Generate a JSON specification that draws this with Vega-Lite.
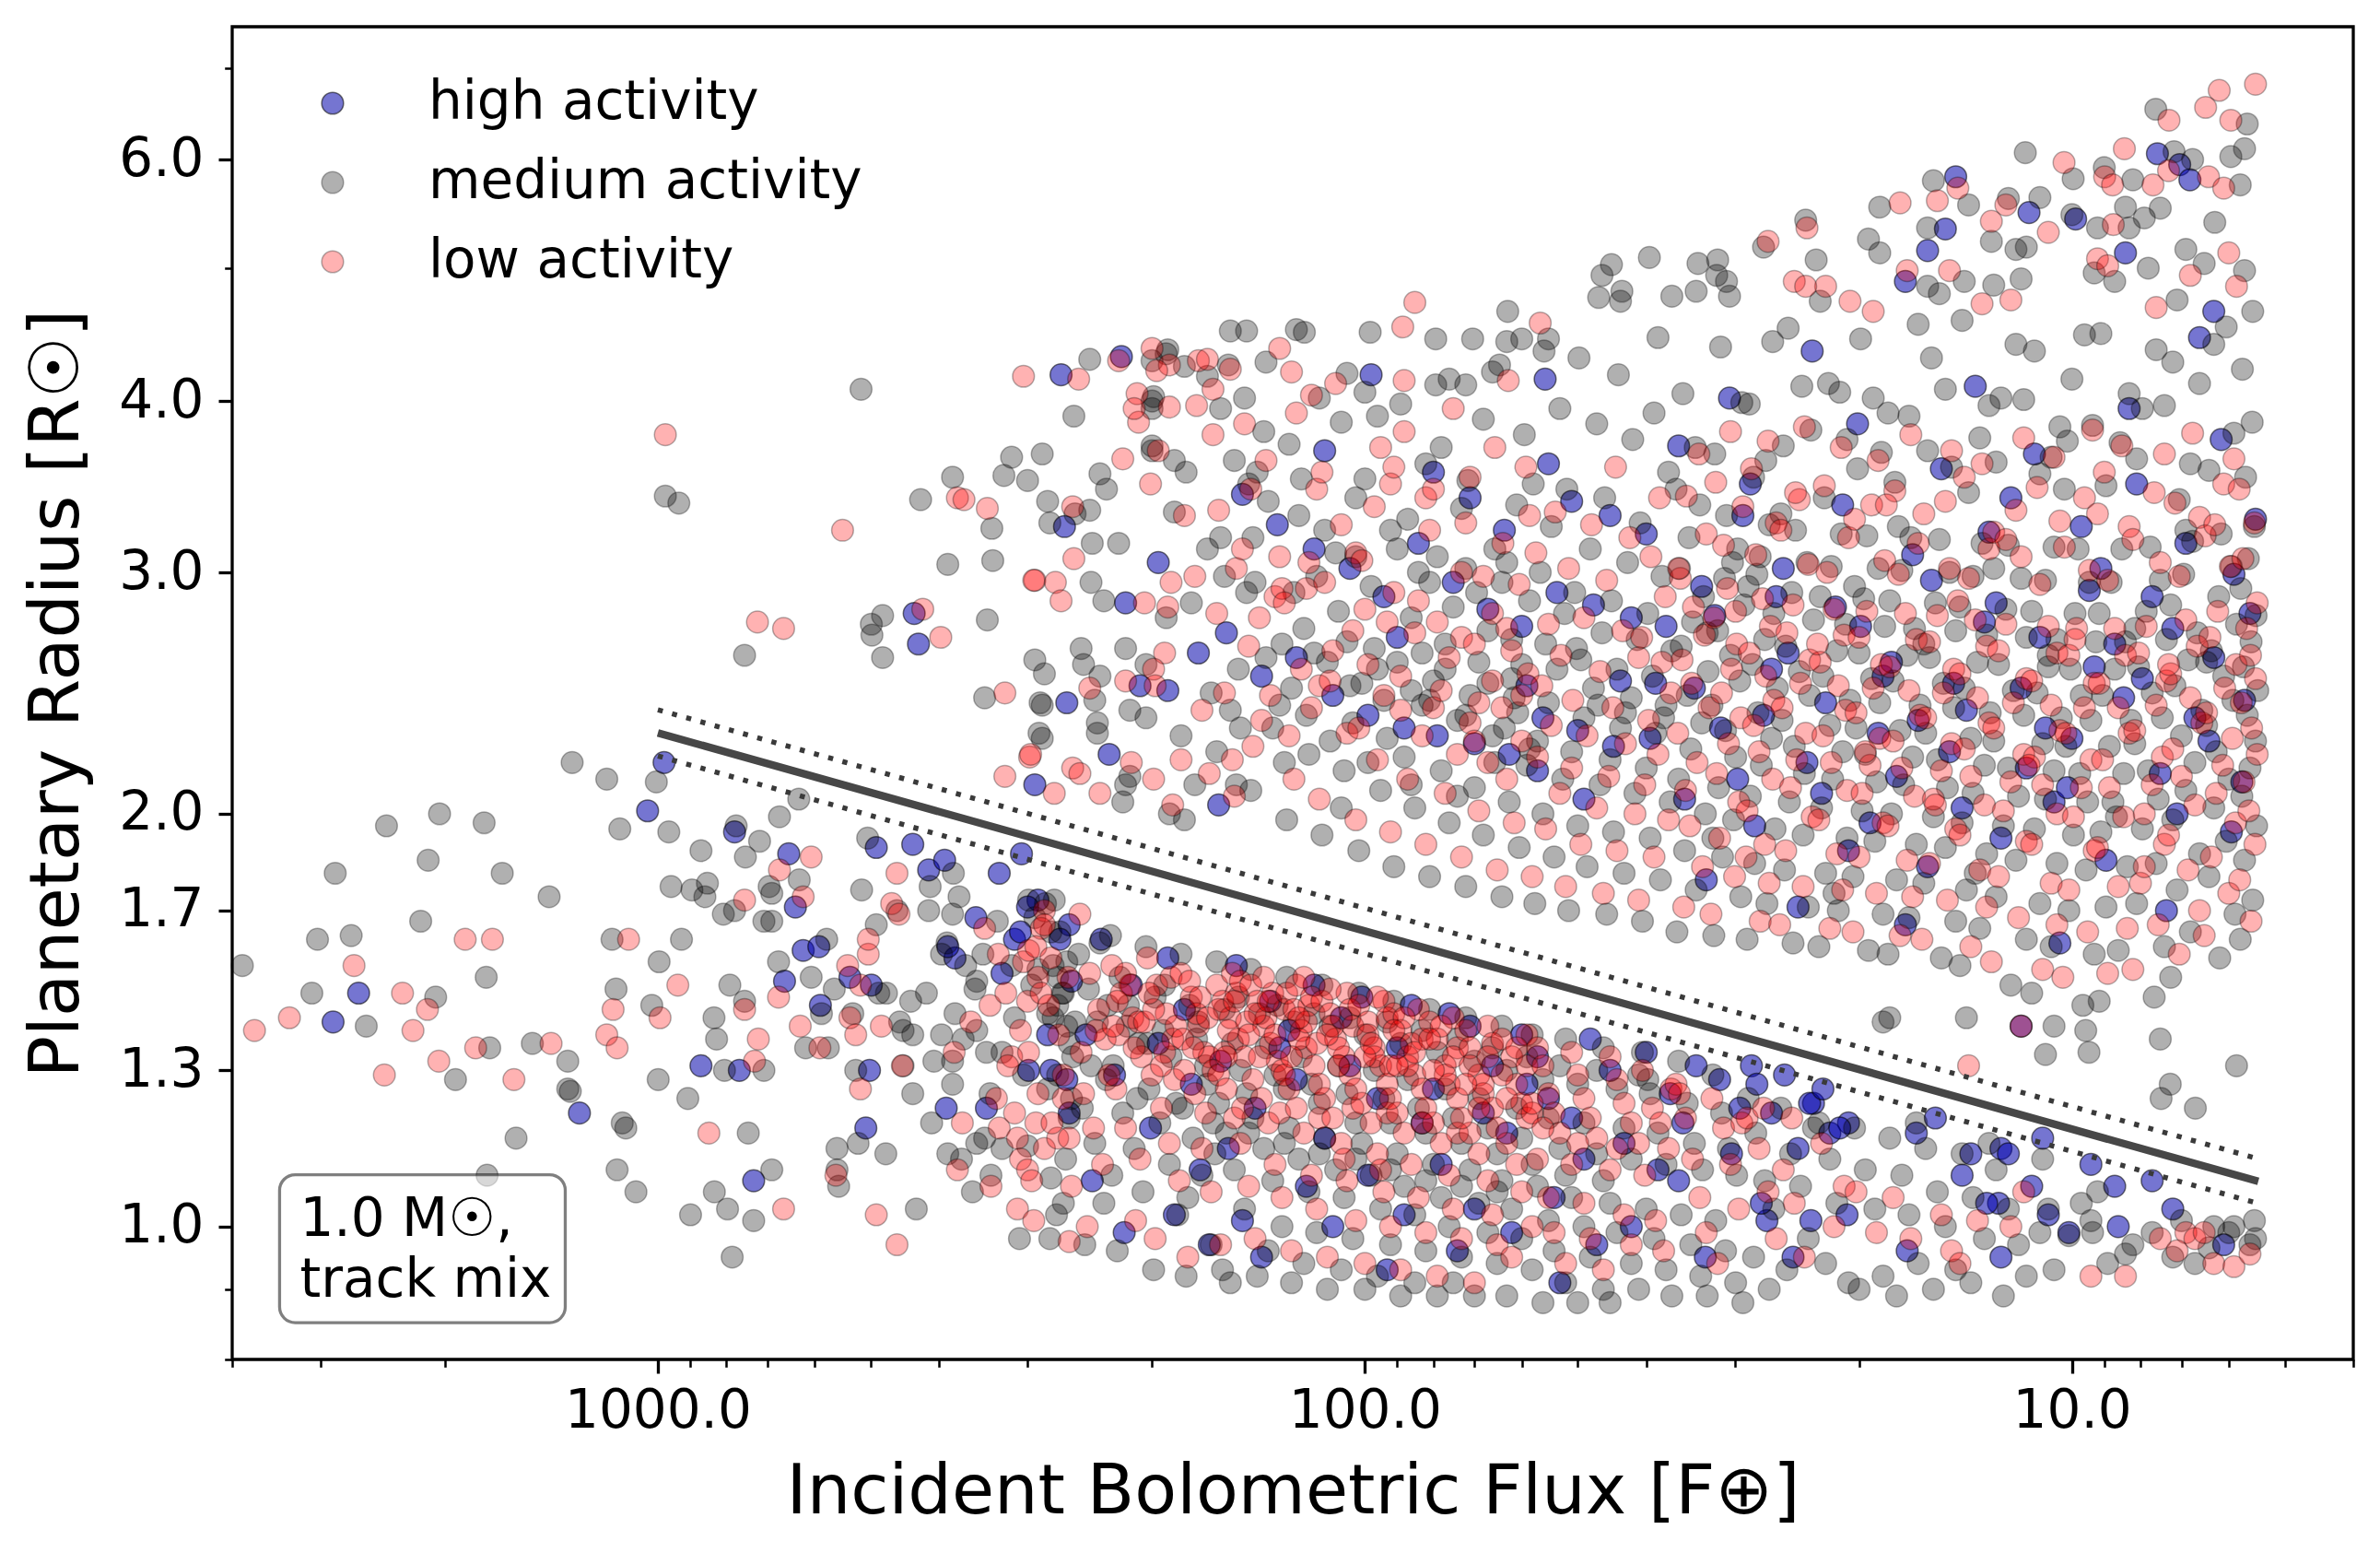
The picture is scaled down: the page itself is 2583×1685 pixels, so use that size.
{
"$schema": "https://vega.github.io/schema/vega-lite/v6.json",
"width": 2302,
"height": 1446,
"autosize": {"type": "none"},
"padding": {"left": 252, "top": 29, "right": 29, "bottom": 210},
"background": "white",
"config": {
 "view": {"stroke": "black", "strokeWidth": 3.3},
 "font": "DejaVu Sans",
 "axis": {"grid": false, "domain": false, "tickColor": "black", "labelColor": "black", "titleColor": "black", "labelFont": "DejaVu Sans", "titleFont": "DejaVu Sans", "labelFontSize": 58, "titleFontSize": 75, "titleFontWeight": "normal", "labelLimit": 600}
},
"datasets": {
"h": [
{"x":2650,"y":1.48},{"x":2880,"y":1.41},{"x":1291,"y":1.21},{"x":1034,"y":2.01},{"x":980,"y":2.18},{"x":869,"y":1.31},{"x":732,"y":1.08},{"x":779,"y":1.94},{"x":653,"y":1.87},{"x":639,"y":1.71},{"x":767,"y":1.3},{"x":662,"y":1.51},{"x":623,"y":1.59},{"x":589,"y":1.45},{"x":592,"y":1.6},{"x":535,"y":1.52},{"x":499,"y":1.5},{"x":491,"y":1.89},{"x":436,"y":1.9},{"x":414,"y":1.82},{"x":393,"y":1.85},{"x":355,"y":1.68},{"x":329,"y":1.81},{"x":306,"y":1.87},{"x":380,"y":1.57},{"x":502,"y":1.3},{"x":508,"y":1.18},{"x":391,"y":1.22},{"x":343,"y":1.22},
{"x":290,"y":1.73},{"x":313,"y":1.62},{"x":307,"y":1.64},{"x":300,"y":1.71},{"x":262,"y":1.66},{"x":326,"y":1.53},{"x":260,"y":1.51},{"x":281,"y":1.38},{"x":299,"y":1.3},{"x":278,"y":1.3},{"x":264,"y":1.28},{"x":389,"y":1.6},
{"x":434,"y":2.8},{"x":428,"y":2.66},{"x":293,"y":2.1},
{"x":269,"y":4.18},{"x":221,"y":4.31},{"x":266,"y":3.24},{"x":218,"y":2.85},{"x":264,"y":2.41},{"x":190,"y":2.46},{"x":208,"y":2.48},{"x":230,"y":2.21},{"x":161,"y":2.03},{"x":98,"y":4.18},{"x":55.6,"y":4.15},
{"x":7.57,"y":6.06},{"x":7.04,"y":5.95},{"x":6.81,"y":5.8},{"x":14.6,"y":5.83},{"x":16,"y":5.15},{"x":15.1,"y":5.34},{"x":11.5,"y":5.49},{"x":9.88,"y":5.43},{"x":8.4,"y":5.13},{"x":17.2,"y":4.89},{"x":6.3,"y":4.65},
{"x":11,"y":1.16},{"x":9.4,"y":1.11},{"x":8.7,"y":1.07},{"x":7.7,"y":1.08},{"x":7.2,"y":1.03},{"x":8.6,"y":1},{"x":6.1,"y":0.97},{"x":10.1,"y":0.99},{"x":10.8,"y":1.02},{"x":11.4,"y":1.07},{"x":15.6,"y":1.2},{"x":16.6,"y":1.17},{"x":17.1,"y":0.96},{"x":12.6,"y":0.95},{"x":23.2,"y":1.23},{"x":20.7,"y":1.19},{"x":22,"y":1.17},{"x":23.4,"y":1.01},{"x":24.8,"y":0.95},{"x":27,"y":1.01},{"x":12.6,"y":1.14},{"x":12.3,"y":1.13},{"x":13.9,"y":1.13},{"x":14.3,"y":1.09},{"x":12.7,"y":1.04},{"x":13.2,"y":1.04},{"x":11.8,"y":1.4},
{"x":270,"y":1.62},{"x":262,"y":1.21},{"x":248,"y":1.38},{"x":236,"y":1.62},{"x":243,"y":1.08},{"x":226,"y":1.29},{"x":214,"y":1.5},{"x":219,"y":0.99},{"x":201,"y":1.18},{"x":190,"y":1.57},{"x":196,"y":1.36},{"x":186,"y":1.02},{"x":180,"y":1.44},{"x":171,"y":1.1},{"x":176,"y":1.27},{"x":166,"y":0.97},{"x":160,"y":1.32},{"x":152,"y":1.55},{"x":156,"y":1.14},{"x":149,"y":1.01},{"x":143,"y":1.22},{"x":136,"y":1.46},{"x":140,"y":0.95},{"x":132,"y":1.35},{"x":128,"y":1.39},{"x":121,"y":1.07},{"x":125,"y":1.28},{"x":118,"y":1.5},{"x":114,"y":1.16},{"x":108,"y":1.42},{"x":111,"y":1},{"x":105,"y":1.31},{"x":101,"y":1.47},{"x":96,"y":1.24},{"x":99,"y":1.09},{"x":93,"y":0.93},{"x":90,"y":1.35},{"x":86,"y":1.45},{"x":88,"y":1.02},{"x":83,"y":1.19},{"x":80,"y":1.26},{"x":76,"y":1.43},{"x":78,"y":1.11},{"x":74,"y":0.96},{"x":71,"y":1.4},{"x":68,"y":1.21},{"x":70,"y":1.03},{"x":66,"y":1.31},{"x":63,"y":1.17},{"x":60,"y":1.38},{"x":62,"y":0.99},{"x":59,"y":1.27},{"x":57,"y":1.33},{"x":54,"y":1.05},{"x":55,"y":1.24},{"x":53,"y":0.91},{"x":51,"y":1.2},{"x":48,"y":1.37},{"x":49,"y":1.12},{"x":47,"y":0.97},{"x":45,"y":1.3},{"x":43,"y":1.15},{"x":42,"y":1},{"x":40,"y":1.34},{"x":38.5,"y":1.1},{"x":37,"y":1.25},{"x":35.5,"y":1.19},{"x":34,"y":1.31},{"x":33,"y":0.95},{"x":36,"y":1.08},{"x":31.5,"y":1.28},{"x":30.3,"y":1.13},{"x":29.5,"y":1.22},{"x":28.4,"y":1.31},{"x":27.5,"y":1.04},{"x":26.6,"y":1.21},{"x":27.9,"y":1.27},{"x":25.5,"y":1.29},{"x":24.4,"y":1.14},{"x":23.5,"y":1.23},{"x":22.5,"y":1.26},{"x":21.3,"y":1.18},{"x":20.8,"y":1.02},
{"x":196,"y":3.05},{"x":172,"y":2.62},{"x":157,"y":2.71},{"x":149,"y":3.42},{"x":140,"y":2.52},{"x":133,"y":3.25},{"x":125,"y":2.6},{"x":118,"y":3.12},{"x":111,"y":2.44},{"x":105,"y":3.02},{"x":114,"y":3.68},{"x":99,"y":2.36},{"x":94,"y":2.88},{"x":88,"y":2.31},{"x":84,"y":3.15},{"x":90,"y":2.69},{"x":79,"y":2.28},{"x":75,"y":2.95},{"x":80,"y":3.55},{"x":70,"y":2.25},{"x":67,"y":2.82},{"x":71,"y":3.4},{"x":62.5,"y":2.21},{"x":60,"y":2.74},{"x":63.5,"y":3.22},{"x":59,"y":2.48},{"x":56,"y":2.35},{"x":53.5,"y":2.9},{"x":57,"y":2.15},{"x":55,"y":3.6},{"x":50,"y":2.3},{"x":47.5,"y":2.84},{"x":51,"y":3.38},{"x":49,"y":2.05},{"x":44.5,"y":2.24},{"x":42,"y":2.78},{"x":45,"y":3.3},{"x":43.5,"y":2.5},{"x":39.5,"y":2.27},{"x":37.5,"y":2.74},{"x":40,"y":3.2},{"x":38.8,"y":2.49},
{"x":35.3,"y":2.05},{"x":33.4,"y":2.93},{"x":36,"y":3.71},{"x":34.2,"y":2.47},{"x":32.9,"y":1.79},{"x":31.4,"y":2.31},{"x":29.7,"y":2.12},{"x":32,"y":2.79},{"x":30.5,"y":4.02},{"x":29.2,"y":3.3},{"x":28.1,"y":1.96},{"x":26.6,"y":2.55},{"x":28.5,"y":3.48},{"x":27.3,"y":2.36},{"x":26.2,"y":2.88},{"x":25.2,"y":2.62},{"x":23.7,"y":2.18},{"x":25.6,"y":3.02},{"x":24.4,"y":1.71},{"x":23.3,"y":4.35},{"x":22.3,"y":2.41},{"x":21.1,"y":3.36},{"x":22.6,"y":2.07},{"x":21.6,"y":2.83},{"x":20.7,"y":1.88},{"x":19.9,"y":2.74},{"x":18.8,"y":2.29},{"x":20.1,"y":3.85},{"x":19.3,"y":1.97},{"x":18.5,"y":2.52},{"x":17.7,"y":2.13},{"x":16.8,"y":3.09},{"x":18,"y":2.58},{"x":17.2,"y":1.66},{"x":16.5,"y":2.34},{"x":15.8,"y":2.96},{"x":14.9,"y":2.22},{"x":16,"y":1.83},{"x":15.3,"y":3.57},{"x":14.7,"y":2.49},{"x":14.1,"y":2.38},{"x":13.3,"y":2.76},{"x":14.3,"y":2.02},{"x":13.7,"y":4.1},{"x":13.1,"y":3.21},{"x":12.6,"y":1.92},{"x":11.8,"y":2.47},{"x":12.8,"y":2.85},{"x":12.2,"y":3.4},{"x":11.6,"y":2.16},{"x":11.1,"y":2.69},{"x":10.6,"y":2.04},{"x":11.3,"y":3.66},{"x":10.9,"y":2.31},{"x":10.4,"y":1.61},{"x":10,"y":2.27},{"x":9.45,"y":2.91},{"x":10.15,"y":2.09},{"x":9.7,"y":3.24},{"x":9.3,"y":2.56},{"x":8.95,"y":1.85},{"x":8.45,"y":2.43},{"x":9.1,"y":3.02},{"x":8.7,"y":2.66},{"x":8.3,"y":3.95},{"x":7.95,"y":2.51},{"x":7.5,"y":2.14},{"x":8.1,"y":3.48},{"x":7.7,"y":2.88},{"x":7.35,"y":1.7},{"x":7.1,"y":2},{"x":6.7,"y":2.35},{"x":7.2,"y":2.73},{"x":6.9,"y":3.15},{"x":6.6,"y":4.45},{"x":6.3,"y":2.6},{"x":5.95,"y":1.94},{"x":6.4,"y":2.26},{"x":6.15,"y":3.75},{"x":5.9,"y":2.99},{"x":5.7,"y":2.42},{"x":5.5,"y":3.28},{"x":5.75,"y":2.11},{"x":5.6,"y":2.8}
],
"m": [
{"x":3870,"y":1.55},{"x":3030,"y":1.62},{"x":3086,"y":1.48},{"x":2860,"y":1.81},{"x":2715,"y":1.63},{"x":2585,"y":1.4},{"x":2420,"y":1.96},{"x":2113,"y":1.85},{"x":2036,"y":2},{"x":2165,"y":1.67},{"x":2062,"y":1.47},{"x":1933,"y":1.28},{"x":1761,"y":1.97},{"x":1660,"y":1.81},{"x":1749,"y":1.52},{"x":1729,"y":1.35},{"x":1505,"y":1.36},{"x":1425,"y":1.74},{"x":1587,"y":1.16},{"x":1744,"y":1.09},{"x":1341,"y":1.32},{"x":1341,"y":1.26},{"x":1330,"y":1.255},{"x":1322,"y":2.18},{"x":1181,"y":2.12},{"x":1132,"y":1.95},{"x":1161,"y":1.62},{"x":1146,"y":1.49},{"x":1123,"y":1.19},{"x":1110,"y":1.18},{"x":1142,"y":1.1},{"x":1074,"y":1.06},{"x":1005,"y":2.11},{"x":965,"y":1.94},{"x":996,"y":1.56},{"x":926,"y":1.62},{"x":1020,"y":1.45},{"x":999,"y":1.28},{"x":907,"y":1.24},{"x":869,"y":1.88},{"x":958,"y":1.77},{"x":895,"y":1.76},{"x":851,"y":1.78},{"x":858,"y":1.74},{"x":808,"y":1.69},{"x":833,"y":1.42},{"x":826,"y":1.37},{"x":791,"y":1.5},{"x":745,"y":1.17},{"x":832,"y":1.06},{"x":899,"y":1.02},{"x":797,"y":1.03},{"x":732,"y":1.01},{"x":785,"y":0.95},{"x":690,"y":1.1},{"x":775,"y":1.96},{"x":752,"y":1.86},{"x":718,"y":1.91},{"x":779,"y":1.7},{"x":696,"y":1.77},{"x":690,"y":1.75},{"x":708,"y":1.67},{"x":690,"y":1.67},{"x":631,"y":1.79},{"x":673,"y":1.99},{"x":632,"y":2.05},{"x":754,"y":1.46},{"x":708,"y":1.3},{"x":805,"y":1.3},{"x":675,"y":1.56},{"x":618,"y":1.35},{"x":574,"y":1.35},{"x":587,"y":1.43},{"x":607,"y":1.52},{"x":563,"y":1.49},{"x":577,"y":1.62},{"x":487,"y":1.48},{"x":530,"y":1.43},{"x":455,"y":1.41},{"x":439,"y":1.46},{"x":417,"y":1.48},{"x":436,"y":1.38},{"x":491,"y":1.66},{"x":459,"y":1.7},{"x":515,"y":1.76},{"x":505,"y":1.92},{"x":382,"y":1.81},{"x":412,"y":1.77},{"x":414,"y":1.7},{"x":383,"y":1.69},{"x":375,"y":1.74},{"x":390,"y":1.61},{"x":525,"y":1.3},{"x":436,"y":1.25},{"x":521,"y":1.15},{"x":558,"y":1.14},{"x":558,"y":1.1},{"x":555,"y":1.07},{"x":476,"y":1.13},{"x":431,"y":1.03},{"x":410,"y":1.19},{"x":389,"y":1.13},{"x":359,"y":1.06},{"x":308,"y":0.98},{"x":345,"y":1.16},
{"x":299,"y":1.73},{"x":275,"y":1.73},{"x":331,"y":1.67},{"x":293,"y":1.68},{"x":278,"y":1.64},{"x":270,"y":1.64},{"x":367,"y":1.55},{"x":397,"y":1.58},{"x":354,"y":1.51},{"x":356,"y":1.49},{"x":347,"y":1.58},{"x":316,"y":1.55},{"x":290,"y":1.54},{"x":272,"y":1.52},{"x":264,"y":1.56},{"x":475,"y":1.48},{"x":380,"y":1.43},{"x":313,"y":1.42},{"x":296,"y":1.5},{"x":281,"y":1.43},{"x":272,"y":1.45},{"x":267,"y":1.48},{"x":450,"y":1.39},{"x":397,"y":1.38},{"x":370,"y":1.37},{"x":383,"y":1.32},{"x":407,"y":1.32},{"x":450,"y":1.31},{"x":383,"y":1.27},{"x":354,"y":1.39},{"x":343,"y":1.34},{"x":326,"y":1.34},{"x":276,"y":1.42},{"x":264,"y":1.4},{"x":262,"y":1.36},{"x":339,"y":1.25},{"x":304,"y":1.29},{"x":272,"y":1.29},{"x":260,"y":1.24},{"x":354,"y":1.15},{"x":372,"y":1.12},{"x":326,"y":1.14},{"x":300,"y":1.145},{"x":262,"y":1.2},{"x":338,"y":1.09},{"x":278,"y":1.085},{"x":267,"y":1.04},
{"x":337,"y":3.23},{"x":336,"y":3.06},{"x":389,"y":3.04},{"x":754,"y":2.61},{"x":499,"y":2.75},{"x":481,"y":2.79},{"x":498,"y":2.7},{"x":481,"y":2.6},{"x":342,"y":2.77},{"x":345,"y":2.43},{"x":293,"y":2.59},{"x":289,"y":2.29},{"x":288,"y":2.41},
{"x":516,"y":4.08},{"x":425,"y":3.39},{"x":383,"y":3.52},{"x":316,"y":3.64},{"x":324,"y":3.53},{"x":300,"y":3.5},{"x":286,"y":3.66},{"x":258,"y":3.9},{"x":245,"y":4.29},{"x":190,"y":4.36},{"x":200,"y":4.28},{"x":180,"y":4.24},{"x":155,"y":4.5},{"x":147,"y":4.5},{"x":125,"y":4.51},{"x":138,"y":4.27},{"x":156,"y":4.25},{"x":167,"y":4.17},{"x":148,"y":4.02},{"x":160,"y":3.95},{"x":199,"y":4.03},{"x":200,"y":3.95},{"x":200,"y":3.68},{"x":186,"y":3.62},{"x":237,"y":3.54},{"x":232,"y":3.45},{"x":245,"y":3.33},{"x":281,"y":3.38},{"x":279,"y":3.26},{"x":257,"y":3.31},{"x":243,"y":3.15},{"x":223,"y":3.15},{"x":244,"y":2.95},{"x":234,"y":2.86},{"x":284,"y":2.53},{"x":286,"y":2.4},{"x":252,"y":2.64},{"x":250,"y":2.57},{"x":237,"y":2.52},{"x":218,"y":2.64},{"x":204,"y":2.57},{"x":215,"y":2.38},{"x":241,"y":2.42},{"x":239,"y":2.33},{"x":239,"y":2.29},{"x":286,"y":2.27},{"x":215,"y":2.13},{"x":218,"y":2.1},{"x":220,"y":2.04},{"x":180,"y":1.98},{"x":189,"y":2},{"x":174,"y":2.1},{"x":152,"y":2.1},{"x":191,"y":4.33},{"x":200,"y":4},{"x":976,"y":3.41},{"x":934,"y":3.37},
{"x":98.3,"y":4.49},{"x":79.4,"y":4.44},{"x":70.4,"y":4.44},{"x":62.8,"y":4.65},{"x":63,"y":4.42},{"x":60,"y":4.44},{"x":55,"y":4.44},{"x":106,"y":4.19},{"x":100,"y":4.06},{"x":79.4,"y":4.11},{"x":72,"y":4.11},{"x":121.8,"y":4.49},
{"x":7.61,"y":6.53},{"x":5.65,"y":6.37},{"x":5.7,"y":6.11},{"x":5.96,"y":6.03},{"x":11.64,"y":6.07},{"x":7.17,"y":6.08},{"x":6.75,"y":6},{"x":9,"y":5.92},{"x":9.96,"y":5.81},{"x":8.2,"y":5.8},{"x":5.78,"y":5.75},{"x":6.28,"y":5.4},{"x":15.7,"y":5.79},{"x":14,"y":5.56},{"x":18.7,"y":5.54},{"x":19.4,"y":5.25},{"x":18.7,"y":5.13},{"x":16,"y":5.35},{"x":13,"y":5.23},{"x":12.3,"y":5.62},{"x":11.1,"y":5.63},{"x":12,"y":5.16},{"x":11.6,"y":5.18},{"x":10,"y":5.47},{"x":9.2,"y":5.35},{"x":8.3,"y":5.35},{"x":8.4,"y":5.54},{"x":7.9,"y":5.44},{"x":7.5,"y":5.53},{"x":7.8,"y":5},{"x":23.8,"y":5.42},{"x":23,"y":5.07},{"x":27.3,"y":5.18},{"x":39.6,"y":5.09},{"x":33.8,"y":5.04},{"x":31.7,"y":5.07},{"x":44.8,"y":5.03},{"x":46.2,"y":4.94},{"x":43.3,"y":4.81},{"x":46.7,"y":4.76},{"x":43.5,"y":4.73},{"x":36.8,"y":4.77},{"x":34,"y":4.81},{"x":31.8,"y":4.94},{"x":30.5,"y":4.77},{"x":30.8,"y":4.89},{"x":22.7,"y":4.73},{"x":16,"y":4.85},{"x":15.4,"y":4.79},{"x":14.2,"y":4.89},{"x":12.9,"y":4.86},{"x":11.8,"y":4.91},{"x":9.3,"y":4.96},{"x":8.7,"y":4.89},{"x":7.1,"y":4.74},{"x":6.9,"y":5.16},{"x":6.5,"y":5.04},{"x":5.7,"y":4.98},{"x":5.55,"y":4.65},
{"x":11,"y":1.12},{"x":9.2,"y":1.06},{"x":9.7,"y":1.04},{"x":9.4,"y":1.01},{"x":9.35,"y":0.99},{"x":10.1,"y":0.985},{"x":11.1,"y":0.99},{"x":10.8,"y":1.03},{"x":10.6,"y":0.93},{"x":8.2,"y":0.97},{"x":7.7,"y":0.99},{"x":7.2,"y":0.95},{"x":6.7,"y":0.94},{"x":6.3,"y":1},{"x":5.9,"y":1},{"x":5.6,"y":0.97},{"x":5.5,"y":0.98},{"x":6.4,"y":0.965},{"x":8.4,"y":0.955},{"x":7,"y":1.01},{"x":6,"y":0.99},{"x":5.52,"y":1.01},{"x":8.9,"y":0.94},
{"x":7.5,"y":1.37},{"x":7.26,"y":1.27},{"x":7.48,"y":1.24},{"x":6.69,"y":1.22},{"x":5.85,"y":1.31},{"x":9.46,"y":1.34},{"x":10.9,"y":1.335},{"x":10.6,"y":1.4},{"x":9.56,"y":1.39},{"x":14.1,"y":1.42},{"x":18.1,"y":1.42},{"x":18.5,"y":1.41},
{"x":283,"y":1.72},{"x":276,"y":1.55},{"x":268,"y":1.48},{"x":259,"y":1.33},{"x":281,"y":1.26},{"x":265,"y":1.12},{"x":273,"y":1.02},{"x":257,"y":1.41},{"x":279,"y":0.98},
{"x":254,"y":1.58},{"x":246,"y":1.49},{"x":239,"y":1.41},{"x":232,"y":1.28},{"x":251,"y":1.22},{"x":241,"y":1.15},{"x":234,"y":1.04},{"x":249,"y":0.97},{"x":237,"y":1.61},{"x":244,"y":1.31},{"x":231,"y":1.45},
{"x":229,"y":1.63},{"x":222,"y":1.52},{"x":216,"y":1.45},{"x":209,"y":1.36},{"x":227,"y":1.31},{"x":220,"y":1.21},{"x":212,"y":1.14},{"x":206,"y":1.06},{"x":224,"y":0.96},{"x":217,"y":1.4},{"x":210,"y":1.24},{"x":228,"y":1.09},
{"x":204,"y":1.6},{"x":198,"y":1.47},{"x":193,"y":1.39},{"x":188,"y":1.33},{"x":202,"y":1.26},{"x":195,"y":1.19},{"x":189,"y":1.11},{"x":184,"y":1.02},{"x":199,"y":0.93},{"x":192,"y":1.5},{"x":185,"y":1.23},{"x":203,"y":1.36},
{"x":182,"y":1.58},{"x":177,"y":1.45},{"x":173,"y":1.37},{"x":168,"y":1.31},{"x":181,"y":1.22},{"x":175,"y":1.16},{"x":170,"y":1.09},{"x":165,"y":0.97},{"x":179,"y":0.92},{"x":172,"y":1.41},{"x":167,"y":1.27},{"x":178,"y":1.05},{"x":164,"y":1.19},
{"x":162,"y":1.56},{"x":158,"y":1.44},{"x":154,"y":1.36},{"x":150,"y":1.3},{"x":161,"y":1.23},{"x":157,"y":1.17},{"x":153,"y":1.1},{"x":148,"y":1.03},{"x":159,"y":0.93},{"x":155,"y":0.91},{"x":151,"y":1.47},{"x":147,"y":1.25},{"x":163,"y":1.13},
{"x":145,"y":1.54},{"x":141,"y":1.43},{"x":138,"y":1.35},{"x":134,"y":1.29},{"x":144,"y":1.2},{"x":139,"y":1.14},{"x":135,"y":1.08},{"x":131,"y":1},{"x":142,"y":0.92},{"x":137,"y":0.96},{"x":133,"y":1.45},{"x":130,"y":1.26},{"x":146,"y":1.17},
{"x":129,"y":1.52},{"x":126,"y":1.41},{"x":123,"y":1.33},{"x":119,"y":1.27},{"x":128,"y":1.18},{"x":124,"y":1.12},{"x":120,"y":1.06},{"x":117,"y":0.99},{"x":127,"y":0.91},{"x":122,"y":0.94},{"x":118,"y":1.43},{"x":116,"y":1.23},{"x":130,"y":1.15},
{"x":115,"y":1.5},{"x":112,"y":1.4},{"x":109,"y":1.31},{"x":106,"y":1.25},{"x":114,"y":1.16},{"x":110,"y":1.1},{"x":107,"y":1.05},{"x":104,"y":0.98},{"x":113,"y":0.9},{"x":108,"y":0.93},{"x":105,"y":1.42},{"x":103,"y":1.19},{"x":116,"y":1.13},
{"x":102,"y":1.48},{"x":100,"y":1.38},{"x":97,"y":1.3},{"x":94,"y":1.24},{"x":101,"y":1.15},{"x":98,"y":1.09},{"x":95,"y":1.03},{"x":92,"y":0.97},{"x":100,"y":0.9},{"x":96,"y":0.92},{"x":93,"y":1.41},{"x":92,"y":1.19},{"x":103,"y":1.12},
{"x":91,"y":1.46},{"x":89,"y":1.36},{"x":87,"y":1.28},{"x":84,"y":1.22},{"x":90,"y":1.13},{"x":88,"y":1.07},{"x":85,"y":1.02},{"x":82,"y":0.96},{"x":89,"y":0.89},{"x":85,"y":0.91},{"x":83,"y":1.39},{"x":82,"y":1.17},{"x":92,"y":1.1},
{"x":81,"y":1.44},{"x":79,"y":1.34},{"x":77,"y":1.26},{"x":75,"y":1.2},{"x":80,"y":1.11},{"x":78,"y":1.05},{"x":76,"y":1},{"x":73,"y":0.95},{"x":79,"y":0.89},{"x":75,"y":0.91},{"x":74,"y":1.37},{"x":73,"y":1.15},{"x":82,"y":1.08},
{"x":72,"y":1.42},{"x":70,"y":1.32},{"x":69,"y":1.24},{"x":67,"y":1.18},{"x":71,"y":1.1},{"x":69,"y":1.04},{"x":67,"y":0.99},{"x":65,"y":0.94},{"x":70,"y":0.89},{"x":66,"y":1.35},{"x":65,"y":1.13},{"x":73,"y":1.07},
{"x":64,"y":1.4},{"x":63,"y":1.3},{"x":61,"y":1.22},{"x":60,"y":1.16},{"x":64,"y":1.08},{"x":62,"y":1.03},{"x":60,"y":0.98},{"x":58,"y":0.93},{"x":63,"y":0.89},{"x":59,"y":1.33},{"x":58,"y":1.11},{"x":65,"y":1.06},
{"x":58,"y":1.38},{"x":56,"y":1.28},{"x":55,"y":1.2},{"x":53,"y":1.14},{"x":57,"y":1.07},{"x":55,"y":1.01},{"x":54,"y":0.96},{"x":52,"y":0.91},{"x":56,"y":0.88},{"x":53,"y":1.31},{"x":52,"y":1.09},
{"x":52,"y":1.37},{"x":50,"y":1.27},{"x":49,"y":1.19},{"x":47,"y":1.13},{"x":51,"y":1.05},{"x":49,"y":1},{"x":48,"y":0.95},{"x":46,"y":0.9},{"x":50,"y":0.88},{"x":47,"y":1.3},{"x":46,"y":1.08},
{"x":46,"y":1.35},{"x":44,"y":1.26},{"x":43,"y":1.18},{"x":42,"y":1.12},{"x":45,"y":1.04},{"x":44,"y":0.99},{"x":42,"y":0.94},{"x":41,"y":0.9},{"x":45,"y":0.88},{"x":41,"y":1.29},
{"x":40.5,"y":1.34},{"x":39.5,"y":1.25},{"x":38.5,"y":1.17},{"x":37.5,"y":1.11},{"x":40,"y":1.03},{"x":39,"y":0.98},{"x":37.5,"y":0.93},{"x":36.8,"y":0.89},{"x":39.8,"y":1.28},
{"x":36,"y":1.32},{"x":35,"y":1.23},{"x":34.2,"y":1.15},{"x":33.3,"y":1.1},{"x":35.7,"y":1.02},{"x":34.6,"y":0.97},{"x":33.5,"y":0.92},{"x":32.8,"y":0.89},
{"x":32.2,"y":1.29},{"x":31.3,"y":1.21},{"x":30.6,"y":1.14},{"x":29.8,"y":1.09},{"x":31.9,"y":1.01},{"x":30.9,"y":0.96},{"x":29.9,"y":0.91},{"x":29.2,"y":0.88},
{"x":28.7,"y":1.24},{"x":28,"y":1.17},{"x":27.2,"y":1.08},{"x":26.4,"y":1.03},{"x":28.2,"y":0.95},{"x":26.8,"y":0.9},
{"x":25.8,"y":1.22},{"x":25,"y":1.13},{"x":24.2,"y":1.07},{"x":23.6,"y":0.98},{"x":25.3,"y":0.93},{"x":23.2,"y":1.18},
{"x":22.8,"y":1.19},{"x":22,"y":1.12},{"x":21.5,"y":1.04},{"x":20.7,"y":0.91},{"x":22.3,"y":0.94},
{"x":20.3,"y":1.18},{"x":19.6,"y":1.1},{"x":19,"y":1.03},{"x":18.5,"y":0.92},{"x":20,"y":0.9},
{"x":18.1,"y":1.16},{"x":17.4,"y":1.09},{"x":17,"y":1.02},{"x":16.5,"y":0.94},{"x":17.7,"y":0.89},{"x":16.6,"y":1.19},
{"x":16.1,"y":1.14},{"x":15.5,"y":1.06},{"x":15.1,"y":1},{"x":14.6,"y":0.93},{"x":15.7,"y":0.9},
{"x":14.3,"y":1.13},{"x":13.8,"y":1.05},{"x":13.3,"y":0.98},{"x":13.9,"y":0.91},{"x":13.1,"y":1.15},
{"x":12.8,"y":1.1},{"x":12.3,"y":1.03},{"x":11.9,"y":0.97},{"x":11.6,"y":0.92},{"x":12.5,"y":0.89},
{"x":204,"y":2.35},{"x":191,"y":2.78},{"x":186,"y":3.32},{"x":200,"y":3.71},
{"x":182,"y":2.28},{"x":176,"y":2.85},{"x":167,"y":3.12},{"x":179,"y":3.55},{"x":165,"y":2.45},
{"x":162,"y":2.22},{"x":151,"y":2.55},{"x":147,"y":2.9},{"x":160,"y":3.18},{"x":153,"y":3.62},{"x":155,"y":2.38},{"x":150,"y":2.31},{"x":158,"y":2.98},{"x":146,"y":3.48},
{"x":145,"y":2.08},{"x":135,"y":2.31},{"x":131,"y":2.66},{"x":143,"y":2.95},{"x":137,"y":3.38},{"x":139,"y":3.8},{"x":130,"y":2.18},{"x":142,"y":3.55},{"x":138,"y":2.6},{"x":144,"y":3.18},{"x":132,"y":2.4},
{"x":129,"y":1.98},{"x":120,"y":2.21},{"x":127,"y":2.47},{"x":122,"y":2.73},{"x":117,"y":2.98},{"x":124,"y":3.3},{"x":128,"y":3.72},{"x":116,"y":4.02},{"x":121,"y":2.36},{"x":118,"y":2.62},{"x":126,"y":2.9},{"x":123,"y":3.51},
{"x":115,"y":1.93},{"x":107,"y":2.15},{"x":104,"y":2.33},{"x":113,"y":2.58},{"x":109,"y":2.81},{"x":110,"y":3.1},{"x":103,"y":3.4},{"x":108,"y":3.86},{"x":112,"y":2.26},{"x":106,"y":2.67},{"x":105,"y":2.48},{"x":114,"y":3.22},{"x":108,"y":2.02},
{"x":102,"y":1.88},{"x":95,"y":2.08},{"x":93,"y":2.27},{"x":101,"y":2.49},{"x":97,"y":2.64},{"x":98,"y":2.93},{"x":92,"y":3.22},{"x":100,"y":3.51},{"x":96,"y":3.9},{"x":94,"y":2.42},{"x":96,"y":2.55},{"x":103,"y":3.08},{"x":99,"y":2.18},
{"x":91,"y":1.83},{"x":85,"y":2.02},{"x":88,"y":2.2},{"x":83,"y":2.4},{"x":90,"y":2.58},{"x":86,"y":2.78},{"x":84,"y":3},{"x":87,"y":3.28},{"x":82,"y":3.6},{"x":89,"y":3.98},{"x":86,"y":2.46},{"x":83,"y":2.62},{"x":90,"y":3.12},{"x":86,"y":2.1},
{"x":81,"y":1.8},{"x":76,"y":1.97},{"x":78,"y":2.15},{"x":74,"y":2.34},{"x":80,"y":2.5},{"x":77,"y":2.66},{"x":75,"y":2.83},{"x":79,"y":3.08},{"x":73,"y":3.34},{"x":78,"y":3.7},{"x":76,"y":4.15},{"x":81,"y":2.42},{"x":77,"y":2.55},{"x":81,"y":2.95},{"x":74,"y":2.06},
{"x":72,"y":1.77},{"x":68,"y":1.93},{"x":70,"y":2.09},{"x":66,"y":2.28},{"x":71,"y":2.44},{"x":69,"y":2.58},{"x":67,"y":2.72},{"x":69.5,"y":2.9},{"x":65.5,"y":3.12},{"x":71.5,"y":3.5},{"x":68,"y":3.88},{"x":66,"y":4.2},{"x":72,"y":2.36},{"x":67,"y":2.49},{"x":72,"y":3.02},{"x":65.5,"y":2.18},
{"x":64,"y":1.74},{"x":60.5,"y":1.89},{"x":62.5,"y":2.04},{"x":59,"y":2.17},{"x":63.5,"y":2.31},{"x":61.5,"y":2.43},{"x":60,"y":2.57},{"x":62,"y":2.68},{"x":58.5,"y":2.86},{"x":63,"y":3.05},{"x":61,"y":3.36},{"x":59.5,"y":3.78},{"x":64.5,"y":4.25},{"x":60.8,"y":2.37},{"x":62,"y":2.51},{"x":58.5,"y":2.23},{"x":64,"y":2.95},
{"x":57.5,"y":1.72},{"x":54,"y":1.86},{"x":56,"y":2},{"x":52.5,"y":2.12},{"x":57,"y":2.26},{"x":55,"y":2.41},{"x":53.5,"y":2.55},{"x":55.5,"y":2.66},{"x":52.2,"y":2.8},{"x":56.5,"y":3},{"x":54.5,"y":3.24},{"x":57.8,"y":3.48},{"x":53,"y":3.95},{"x":55.8,"y":4.35},
{"x":51.5,"y":1.7},{"x":48.5,"y":1.83},{"x":50,"y":1.96},{"x":46.5,"y":2.1},{"x":51,"y":2.22},{"x":49,"y":2.35},{"x":47.5,"y":2.47},{"x":49.5,"y":2.59},{"x":46.2,"y":2.71},{"x":50.5,"y":2.9},{"x":48,"y":3.12},{"x":51.8,"y":3.45},{"x":47,"y":3.85},{"x":49.8,"y":4.3},{"x":46.8,"y":2.4},{"x":50.2,"y":2.64},
{"x":45.5,"y":1.69},{"x":43,"y":1.81},{"x":44.5,"y":1.94},{"x":41.5,"y":2.07},{"x":45,"y":2.19},{"x":43.5,"y":2.31},{"x":42,"y":2.43},{"x":44,"y":2.55},{"x":41.2,"y":2.68},{"x":44.8,"y":2.86},{"x":42.5,"y":3.05},{"x":45.8,"y":3.4},{"x":41.8,"y":3.75},{"x":43.8,"y":4.18},{"x":42.8,"y":2.37},
{"x":40.5,"y":1.67},{"x":38.2,"y":1.79},{"x":39.5,"y":1.92},{"x":37,"y":2.04},{"x":40,"y":2.16},{"x":38.8,"y":2.29},{"x":37.5,"y":2.4},{"x":39.2,"y":2.52},{"x":36.8,"y":2.63},{"x":39.8,"y":2.8},{"x":38,"y":2.98},{"x":40.8,"y":3.26},{"x":37.2,"y":3.55},{"x":39,"y":3.92},{"x":38.5,"y":4.45},{"x":37.8,"y":2.35},
{"x":36.2,"y":1.64},{"x":34,"y":1.76},{"x":35.3,"y":1.88},{"x":33,"y":2},{"x":36,"y":2.12},{"x":34.6,"y":2.23},{"x":33.4,"y":2.33},{"x":35,"y":2.44},{"x":32.7,"y":2.54},{"x":35.7,"y":2.65},{"x":34.4,"y":2.76},{"x":33.2,"y":2.88},{"x":35.9,"y":3.02},{"x":34.8,"y":3.18},{"x":33.6,"y":3.36},{"x":36.3,"y":3.45},{"x":34.1,"y":3.7},{"x":35.5,"y":4.05},{"x":32.8,"y":2.71},
{"x":32.1,"y":1.63},{"x":29.4,"y":1.74},{"x":31.2,"y":1.86},{"x":30.1,"y":1.98},{"x":31.6,"y":2.09},{"x":29.9,"y":2.2},{"x":30.9,"y":2.3},{"x":32.3,"y":2.4},{"x":29.5,"y":2.5},{"x":30.4,"y":2.61},{"x":31.7,"y":2.72},{"x":29.1,"y":2.84},{"x":31,"y":2.97},{"x":29.7,"y":3.12},{"x":30.8,"y":3.3},{"x":32,"y":3.66},{"x":29.3,"y":3.99},{"x":31.4,"y":4.38},{"x":30.2,"y":3.05},{"x":32.2,"y":1.92},
{"x":28.8,"y":1.62},{"x":27,"y":1.72},{"x":28.1,"y":1.84},{"x":26.3,"y":1.95},{"x":28.5,"y":2.06},{"x":27.5,"y":2.17},{"x":26.6,"y":2.27},{"x":27.8,"y":2.37},{"x":26.1,"y":2.47},{"x":28.3,"y":2.57},{"x":27.2,"y":2.68},{"x":26.4,"y":2.8},{"x":28.7,"y":2.93},{"x":27.6,"y":3.08},{"x":26.8,"y":3.25},{"x":28.2,"y":3.52},{"x":27.1,"y":3.62},{"x":28.6,"y":3.98},{"x":26.5,"y":4.42},{"x":27.9,"y":2.99},
{"x":24.8,"y":1.61},{"x":23.6,"y":1.71},{"x":25.5,"y":1.82},{"x":24,"y":1.93},{"x":25.1,"y":2.04},{"x":23.9,"y":2.14},{"x":24.7,"y":2.24},{"x":25.7,"y":2.34},{"x":23.5,"y":2.44},{"x":24.3,"y":2.54},{"x":25.4,"y":2.65},{"x":23.2,"y":2.77},{"x":24.9,"y":2.9},{"x":23.7,"y":3.05},{"x":24.6,"y":3.22},{"x":25.6,"y":3.71},{"x":23.4,"y":3.81},{"x":25.2,"y":4.52},{"x":24.1,"y":4.1},{"x":25.8,"y":3.31},
{"x":22.8,"y":1.6},{"x":21.4,"y":1.7},{"x":22.3,"y":1.81},{"x":20.8,"y":1.92},{"x":22.6,"y":2.02},{"x":21.8,"y":2.12},{"x":21.1,"y":2.22},{"x":22,"y":2.32},{"x":20.6,"y":2.42},{"x":22.5,"y":2.52},{"x":21.5,"y":2.63},{"x":20.9,"y":2.75},{"x":22.7,"y":2.88},{"x":21.9,"y":3.03},{"x":21.2,"y":3.2},{"x":22.4,"y":3.4},{"x":21.3,"y":4.06},{"x":22.1,"y":4.12},{"x":20.8,"y":3.75},{"x":21.7,"y":1.75},
{"x":19.4,"y":1.59},{"x":18.5,"y":1.69},{"x":20.4,"y":1.8},{"x":19,"y":1.91},{"x":19.8,"y":2.01},{"x":18.9,"y":2.11},{"x":19.6,"y":2.21},{"x":20.2,"y":2.31},{"x":18.7,"y":2.41},{"x":19.2,"y":2.51},{"x":20,"y":2.62},{"x":18.4,"y":2.74},{"x":19.7,"y":2.87},{"x":18.8,"y":3.02},{"x":19.5,"y":3.19},{"x":20.1,"y":3.57},{"x":18.6,"y":3.67},{"x":19.9,"y":4.44},{"x":19.1,"y":4.02},{"x":20.3,"y":2.93},
{"x":18.2,"y":1.58},{"x":17,"y":1.68},{"x":17.7,"y":1.79},{"x":16.6,"y":1.9},{"x":18,"y":2},{"x":17.3,"y":2.1},{"x":16.8,"y":2.2},{"x":17.5,"y":2.3},{"x":16.4,"y":2.4},{"x":17.9,"y":2.5},{"x":17.1,"y":2.61},{"x":16.7,"y":2.73},{"x":18.1,"y":2.86},{"x":17.4,"y":3.01},{"x":16.9,"y":3.18},{"x":17.8,"y":3.49},{"x":17,"y":3.9},{"x":18.2,"y":3.92},{"x":16.5,"y":4.55},{"x":17.6,"y":3.24},
{"x":15.3,"y":1.57},{"x":14.6,"y":1.67},{"x":16.2,"y":1.78},{"x":15.1,"y":1.89},{"x":15.7,"y":1.99},{"x":15,"y":2.09},{"x":15.5,"y":2.19},{"x":16.1,"y":2.29},{"x":14.7,"y":2.39},{"x":15.2,"y":2.49},{"x":15.9,"y":2.6},{"x":14.6,"y":2.72},{"x":15.6,"y":2.85},{"x":14.9,"y":3},{"x":15.4,"y":3.17},{"x":16,"y":3.68},{"x":14.8,"y":3.58},{"x":15.8,"y":4.3},{"x":15.1,"y":4.08},{"x":16.2,"y":2.66},
{"x":14.4,"y":1.55},{"x":13.5,"y":1.65},{"x":14.1,"y":1.76},{"x":13.2,"y":1.87},{"x":14.3,"y":1.97},{"x":13.8,"y":2.07},{"x":13.3,"y":2.17},{"x":13.9,"y":2.27},{"x":13.05,"y":2.37},{"x":14.2,"y":2.47},{"x":13.6,"y":2.58},{"x":13.2,"y":2.7},{"x":14.4,"y":2.83},{"x":13.8,"y":2.98},{"x":13.4,"y":3.15},{"x":14,"y":3.43},{"x":13.5,"y":3.76},{"x":14.3,"y":4.58},{"x":13.1,"y":3.97},{"x":13.7,"y":1.81},
{"x":12.2,"y":1.5},{"x":11.6,"y":1.62},{"x":12.8,"y":1.74},{"x":12,"y":1.85},{"x":12.5,"y":1.96},{"x":11.9,"y":2.06},{"x":12.3,"y":2.16},{"x":12.9,"y":2.26},{"x":11.7,"y":2.36},{"x":12.1,"y":2.46},{"x":12.7,"y":2.57},{"x":11.6,"y":2.69},{"x":12.4,"y":2.82},{"x":11.8,"y":2.97},{"x":12.3,"y":3.14},{"x":12.8,"y":3.61},{"x":11.7,"y":4.01},{"x":12.6,"y":4.02},{"x":12,"y":4.4},{"x":12.9,"y":3.02},
{"x":11.4,"y":1.48},{"x":10.7,"y":1.6},{"x":11.1,"y":1.72},{"x":10.5,"y":1.84},{"x":11.3,"y":1.95},{"x":10.9,"y":2.05},{"x":10.6,"y":2.15},{"x":11,"y":2.25},{"x":10.35,"y":2.35},{"x":11.2,"y":2.45},{"x":10.8,"y":2.56},{"x":10.5,"y":2.68},{"x":11.4,"y":2.81},{"x":10.9,"y":2.96},{"x":10.6,"y":3.13},{"x":11.1,"y":3.54},{"x":10.7,"y":3.64},{"x":11.3,"y":4.35},{"x":10.4,"y":3.83},{"x":10.8,"y":2.61},
{"x":9.65,"y":1.45},{"x":9.3,"y":1.58},{"x":10.1,"y":1.7},{"x":9.55,"y":1.82},{"x":9.95,"y":1.93},{"x":9.5,"y":2.04},{"x":9.75,"y":2.14},{"x":10.2,"y":2.24},{"x":9.4,"y":2.34},{"x":9.7,"y":2.44},{"x":10.05,"y":2.55},{"x":9.25,"y":2.67},{"x":9.9,"y":2.8},{"x":9.45,"y":2.95},{"x":9.8,"y":3.12},{"x":10.15,"y":3.74},{"x":9.35,"y":3.84},{"x":10,"y":4.15},{"x":9.6,"y":4.47},{"x":10.25,"y":3.45},
{"x":9.15,"y":1.46},{"x":8.6,"y":1.59},{"x":8.95,"y":1.71},{"x":8.35,"y":1.83},{"x":9.1,"y":1.94},{"x":8.75,"y":2.04},{"x":8.45,"y":2.14},{"x":8.85,"y":2.24},{"x":8.25,"y":2.34},{"x":9.05,"y":2.44},{"x":8.7,"y":2.55},{"x":8.4,"y":2.67},{"x":9.15,"y":2.8},{"x":8.8,"y":2.95},{"x":8.5,"y":3.12},{"x":8.95,"y":3.47},{"x":8.55,"y":3.73},{"x":9.1,"y":4.48},{"x":8.3,"y":4.05},{"x":8.65,"y":1.99},
{"x":7.65,"y":1.47},{"x":7.4,"y":1.6},{"x":8.1,"y":1.72},{"x":7.6,"y":1.84},{"x":7.95,"y":1.95},{"x":7.55,"y":2.05},{"x":7.8,"y":2.15},{"x":8.15,"y":2.25},{"x":7.45,"y":2.35},{"x":7.7,"y":2.45},{"x":8.05,"y":2.56},{"x":7.35,"y":2.68},{"x":7.85,"y":2.81},{"x":7.5,"y":2.96},{"x":7.75,"y":3.13},{"x":8.1,"y":3.63},{"x":7.4,"y":3.97},{"x":7.95,"y":3.95},{"x":7.6,"y":4.36},{"x":8.15,"y":2.73},
{"x":7.25,"y":1.52},{"x":6.8,"y":1.64},{"x":7.1,"y":1.76},{"x":6.6,"y":1.87},{"x":7.2,"y":1.98},{"x":6.9,"y":2.08},{"x":6.7,"y":2.18},{"x":7,"y":2.28},{"x":6.55,"y":2.38},{"x":7.15,"y":2.48},{"x":6.85,"y":2.59},{"x":6.65,"y":2.71},{"x":7.25,"y":2.84},{"x":6.95,"y":2.99},{"x":6.75,"y":3.16},{"x":7.05,"y":3.39},{"x":6.8,"y":3.6},{"x":7.2,"y":4.27},{"x":6.6,"y":4.12},{"x":6.9,"y":3.22},
{"x":6.18,"y":1.57},{"x":5.88,"y":1.69},{"x":6.4,"y":1.8},{"x":6.05,"y":1.91},{"x":6.3,"y":2.02},{"x":6,"y":2.12},{"x":6.25,"y":2.22},{"x":6.45,"y":2.32},{"x":5.92,"y":2.42},{"x":6.1,"y":2.52},{"x":6.35,"y":2.63},{"x":5.85,"y":2.75},{"x":6.2,"y":2.88},{"x":5.95,"y":3.03},{"x":6.15,"y":3.2},{"x":6.4,"y":3.56},{"x":5.9,"y":3.79},{"x":6.3,"y":4.4},{"x":6.05,"y":4.53},{"x":6.45,"y":2.58},
{"x":5.78,"y":1.62},{"x":5.55,"y":1.73},{"x":5.7,"y":1.85},{"x":5.48,"y":1.96},{"x":5.75,"y":2.06},{"x":5.6,"y":2.16},{"x":5.5,"y":2.26},{"x":5.65,"y":2.36},{"x":5.46,"y":2.46},{"x":5.72,"y":2.56},{"x":5.58,"y":2.67},{"x":5.49,"y":2.79},{"x":5.77,"y":2.92},{"x":5.63,"y":3.07},{"x":5.52,"y":3.24},{"x":5.68,"y":3.52},{"x":5.56,"y":3.86},{"x":5.74,"y":4.22}
],
"l": [
{"x":3720,"y":1.39},{"x":3320,"y":1.42},{"x":2690,"y":1.55},{"x":2297,"y":1.48},{"x":2118,"y":1.44},{"x":2220,"y":1.39},{"x":2041,"y":1.32},{"x":2437,"y":1.29},{"x":1873,"y":1.62},{"x":1714,"y":1.62},{"x":1810,"y":1.35},{"x":1598,"y":1.28},{"x":1416,"y":1.36},{"x":1100,"y":1.62},{"x":1157,"y":1.44},{"x":1181,"y":1.38},{"x":1142,"y":1.35},{"x":993,"y":1.42},{"x":937,"y":1.5},{"x":847,"y":1.17},{"x":664,"y":1.03},{"x":754,"y":1.73},{"x":673,"y":1.82},{"x":607,"y":1.86},{"x":623,"y":1.74},{"x":754,"y":1.44},{"x":721,"y":1.37},{"x":730,"y":1.32},{"x":675,"y":1.47},{"x":629,"y":1.4},{"x":590,"y":1.35},{"x":539,"y":1.55},{"x":517,"y":1.5},{"x":504,"y":1.58},{"x":535,"y":1.42},{"x":525,"y":1.38},{"x":483,"y":1.4},{"x":504,"y":1.62},{"x":467,"y":1.72},{"x":459,"y":1.81},{"x":517,"y":1.26},{"x":451,"y":1.31},{"x":560,"y":1.09},{"x":491,"y":1.02},{"x":459,"y":0.97},{"x":377,"y":1.1},{"x":338,"y":1.07},{"x":310,"y":1.03},{"x":294,"y":1.01},{"x":371,"y":1.19},{"x":329,"y":1.18},
{"x":456,"y":1.69},{"x":345,"y":1.65},{"x":284,"y":1.7},{"x":287,"y":1.65},{"x":330,"y":1.58},{"x":304,"y":1.56},{"x":299,"y":1.59},{"x":292,"y":1.6},{"x":278,"y":1.57},{"x":361,"y":1.41},{"x":339,"y":1.45},{"x":322,"y":1.48},{"x":300,"y":1.46},{"x":290,"y":1.52},{"x":287,"y":1.48},{"x":381,"y":1.34},{"x":316,"y":1.33},{"x":307,"y":1.39},{"x":299,"y":1.34},{"x":332,"y":1.24},{"x":320,"y":1.31},{"x":290,"y":1.25},{"x":267,"y":1.24},{"x":313,"y":1.21},{"x":310,"y":1.16},{"x":292,"y":1.19},{"x":284,"y":1.14},{"x":272,"y":1.16},{"x":262,"y":1.16},{"x":307,"y":1.12},{"x":300,"y":1.1},{"x":296,"y":1.08},{"x":262,"y":0.975},
{"x":548,"y":3.22},{"x":293,"y":2.96},{"x":723,"y":2.76},{"x":664,"y":2.73},{"x":422,"y":2.82},{"x":398,"y":2.69},{"x":323,"y":2.45},{"x":298,"y":2.2},{"x":323,"y":2.13},
{"x":377,"y":3.4},{"x":369,"y":3.39},{"x":342,"y":3.34},{"x":304,"y":4.17},{"x":254,"y":4.15},{"x":223,"y":4.28},{"x":200,"y":4.37},{"x":189,"y":4.25},{"x":172,"y":4.28},{"x":167,"y":4.29},{"x":132,"y":4.37},{"x":127,"y":4.2},{"x":155,"y":4.22},{"x":164,"y":4.08},{"x":119,"y":4.04},{"x":173,"y":3.97},{"x":189,"y":3.96},{"x":210,"y":4.05},{"x":209,"y":3.86},{"x":196,"y":3.68},{"x":220,"y":3.63},{"x":259,"y":3.35},{"x":258,"y":3.07},{"x":205,"y":2.85},{"x":190,"y":2.83},{"x":294,"y":2.96},{"x":274,"y":2.95},{"x":269,"y":2.86},{"x":192,"y":2.62},{"x":199,"y":2.55},{"x":218,"y":2.5},{"x":245,"y":2.47},{"x":297,"y":2.21},{"x":275,"y":2.07},{"x":259,"y":2.16},{"x":253,"y":2.14},{"x":237,"y":2.07},{"x":214,"y":2.18},{"x":199,"y":2.12},{"x":187,"y":2.03},{"x":182,"y":2.19},{"x":166,"y":2.14},{"x":153,"y":2.06},{"x":197,"y":4.21},{"x":212,"y":3.95},{"x":976,"y":3.78},
{"x":85,"y":4.72},{"x":88.4,"y":4.53},{"x":56.5,"y":4.56},{"x":88,"y":4.14},{"x":62.7,"y":4.14},
{"x":5.5,"y":6.81},{"x":6.19,"y":6.74},{"x":6.47,"y":6.55},{"x":7.29,"y":6.41},{"x":5.96,"y":6.41},{"x":8.43,"y":6.11},{"x":10.26,"y":5.97},{"x":8.99,"y":5.83},{"x":8.76,"y":5.75},{"x":7.68,"y":5.75},{"x":7.3,"y":5.89},{"x":6.41,"y":5.83},{"x":6.1,"y":5.72},{"x":15.5,"y":5.6},{"x":14.5,"y":5.72},{"x":17.5,"y":5.58},{"x":12.4,"y":5.56},{"x":13,"y":5.41},{"x":10.8,"y":5.31},{"x":8.74,"y":5.38},{"x":9.2,"y":5.08},{"x":23.7,"y":5.35},{"x":26.9,"y":5.23},{"x":22.3,"y":4.85},{"x":24.7,"y":4.89},{"x":23.8,"y":4.85},{"x":20.6,"y":4.73},{"x":19.1,"y":4.65},{"x":17.1,"y":4.98},{"x":12.2,"y":4.74},{"x":13.4,"y":4.71},{"x":14.9,"y":4.98},{"x":8.9,"y":5.02},{"x":7.6,"y":4.68},{"x":6.8,"y":4.94},{"x":6,"y":5.13},{"x":5.85,"y":4.85},
{"x":9.4,"y":0.92},{"x":8.4,"y":0.92},{"x":7.5,"y":0.98},{"x":6.9,"y":0.99},{"x":6.7,"y":0.98},{"x":6.3,"y":0.94},{"x":5.9,"y":0.935},{"x":6.5,"y":0.99},{"x":11.8,"y":1.4},{"x":14,"y":1.31},{"x":5.6,"y":0.955},{"x":7.1,"y":0.96},
{"x":284,"y":1.66},{"x":271,"y":1.38},{"x":263,"y":1.52},{"x":277,"y":1.19},{"x":260,"y":1.07},{"x":267,"y":1.29},{"x":280,"y":1.45},
{"x":253,"y":1.69},{"x":245,"y":1.53},{"x":238,"y":1.44},{"x":233,"y":1.37},{"x":250,"y":1.25},{"x":242,"y":1.18},{"x":235,"y":1.11},{"x":247,"y":1},{"x":240,"y":1.39},{"x":252,"y":1.34},
{"x":228,"y":1.55},{"x":221,"y":1.48},{"x":213,"y":1.42},{"x":207,"y":1.33},{"x":225,"y":1.26},{"x":218,"y":1.18},{"x":211,"y":1.01},{"x":223,"y":1.38},{"x":215,"y":1.5},{"x":208,"y":1.12},{"x":230,"y":1.29},{"x":224,"y":1.46},{"x":212,"y":1.35},{"x":218,"y":1.53},{"x":209,"y":1.41},{"x":227,"y":1.4},
{"x":203,"y":1.57},{"x":197,"y":1.5},{"x":191,"y":1.43},{"x":187,"y":1.37},{"x":200,"y":1.29},{"x":194,"y":1.22},{"x":189,"y":1.15},{"x":183,"y":1.08},{"x":198,"y":0.98},{"x":192,"y":1.34},{"x":186,"y":1.28},{"x":205,"y":1.41},{"x":199,"y":1.44},{"x":188,"y":1.52},{"x":194,"y":1.31},{"x":202,"y":1.48},{"x":185,"y":1.4},
{"x":182,"y":1.53},{"x":176,"y":1.47},{"x":172,"y":1.4},{"x":169,"y":1.34},{"x":180,"y":1.3},{"x":174,"y":1.25},{"x":170,"y":1.14},{"x":165,"y":1.06},{"x":178,"y":0.95},{"x":173,"y":1.43},{"x":166,"y":1.33},{"x":181,"y":1.37},{"x":168,"y":1.21},{"x":177,"y":1.51},{"x":167,"y":1.42},{"x":175,"y":1.35},{"x":171,"y":1.47},{"x":164,"y":1.3},
{"x":162,"y":1.5},{"x":159,"y":1.46},{"x":155,"y":1.42},{"x":151,"y":1.37},{"x":148,"y":1.33},{"x":161,"y":1.29},{"x":157,"y":1.26},{"x":153,"y":1.2},{"x":150,"y":1.15},{"x":146,"y":1.07},{"x":160,"y":0.97},{"x":156,"y":1.39},{"x":152,"y":1.48},{"x":149,"y":1.22},{"x":158,"y":1.34},{"x":154,"y":1.53},{"x":161,"y":1.44},{"x":150,"y":1.51},{"x":157,"y":1.33},{"x":147,"y":1.41},{"x":153,"y":1.46},
{"x":145,"y":1.5},{"x":142,"y":1.46},{"x":139,"y":1.4},{"x":136,"y":1.36},{"x":133,"y":1.32},{"x":144,"y":1.28},{"x":140,"y":1.24},{"x":137,"y":1.19},{"x":134,"y":1.11},{"x":131,"y":1.05},{"x":143,"y":0.98},{"x":138,"y":1.42},{"x":135,"y":1.48},{"x":132,"y":1.21},{"x":141,"y":1.33},{"x":146,"y":1.38},{"x":130,"y":1.44},{"x":143,"y":1.43},{"x":134,"y":1.38},{"x":139,"y":1.52},{"x":131,"y":1.3},{"x":137,"y":1.46},
{"x":129,"y":1.48},{"x":126,"y":1.44},{"x":123,"y":1.39},{"x":121,"y":1.35},{"x":118,"y":1.31},{"x":128,"y":1.26},{"x":125,"y":1.22},{"x":122,"y":1.17},{"x":119,"y":1.09},{"x":117,"y":1.03},{"x":127,"y":0.96},{"x":124,"y":1.37},{"x":120,"y":1.45},{"x":116,"y":1.2},{"x":130,"y":1.29},{"x":125,"y":1.5},{"x":121,"y":1.41},{"x":127,"y":1.33},{"x":119,"y":1.47},{"x":124,"y":1.42},{"x":117,"y":1.36},{"x":122,"y":1.52},
{"x":115,"y":1.46},{"x":112,"y":1.43},{"x":110,"y":1.37},{"x":107,"y":1.33},{"x":105,"y":1.29},{"x":114,"y":1.24},{"x":111,"y":1.2},{"x":108,"y":1.15},{"x":106,"y":1.08},{"x":103,"y":1.01},{"x":113,"y":0.95},{"x":109,"y":1.35},{"x":106,"y":1.48},{"x":104,"y":1.22},{"x":116,"y":1.27},{"x":111,"y":1.4},{"x":107,"y":1.12},{"x":113,"y":1.38},{"x":105,"y":1.44},{"x":109,"y":1.31},{"x":104,"y":1.4},{"x":112,"y":1.49},
{"x":102,"y":1.45},{"x":99,"y":1.41},{"x":97,"y":1.35},{"x":95,"y":1.31},{"x":93,"y":1.27},{"x":101,"y":1.23},{"x":98,"y":1.19},{"x":96,"y":1.13},{"x":94,"y":1.06},{"x":92,"y":1},{"x":100,"y":0.94},{"x":97,"y":1.33},{"x":94,"y":1.46},{"x":93,"y":1.21},{"x":103,"y":1.26},{"x":99,"y":1.38},{"x":95,"y":1.1},{"x":100,"y":1.33},{"x":93,"y":1.42},{"x":98,"y":1.36},{"x":92,"y":1.31},{"x":96,"y":1.47},
{"x":91,"y":1.43},{"x":89,"y":1.39},{"x":87,"y":1.33},{"x":85,"y":1.29},{"x":83,"y":1.26},{"x":90,"y":1.21},{"x":88,"y":1.17},{"x":86,"y":1.11},{"x":84,"y":1.05},{"x":82,"y":0.99},{"x":89,"y":0.93},{"x":87,"y":1.31},{"x":84,"y":1.44},{"x":83,"y":1.19},{"x":92,"y":1.24},{"x":86,"y":1.36},{"x":90,"y":1.31},{"x":83,"y":1.37},{"x":88,"y":1.42},{"x":85,"y":1.34},{"x":91,"y":1.39},
{"x":81,"y":1.41},{"x":79,"y":1.37},{"x":77,"y":1.31},{"x":76,"y":1.27},{"x":74,"y":1.24},{"x":80,"y":1.19},{"x":78,"y":1.15},{"x":76,"y":1.09},{"x":75,"y":1.03},{"x":73,"y":0.98},{"x":79,"y":0.92},{"x":77,"y":1.29},{"x":75,"y":1.42},{"x":82,"y":1.22},{"x":74,"y":1.17},{"x":80,"y":1.3},{"x":74,"y":1.35},{"x":78,"y":1.4},{"x":75,"y":1.33},{"x":81,"y":1.37},
{"x":72,"y":1.39},{"x":71,"y":1.35},{"x":69,"y":1.29},{"x":68,"y":1.25},{"x":66,"y":1.22},{"x":71,"y":1.17},{"x":69,"y":1.13},{"x":67,"y":1.08},{"x":66,"y":1.02},{"x":65,"y":0.97},{"x":70,"y":0.91},{"x":68,"y":1.27},{"x":67,"y":1.4},{"x":73,"y":1.2},{"x":71,"y":1.31},{"x":66,"y":1.36},{"x":69,"y":1.22},{"x":67,"y":1.33},{"x":72,"y":1.27},
{"x":64,"y":1.37},{"x":62,"y":1.33},{"x":61,"y":1.27},{"x":60,"y":1.23},{"x":59,"y":1.2},{"x":63,"y":1.15},{"x":61,"y":1.11},{"x":60,"y":1.06},{"x":58,"y":1},{"x":62,"y":0.95},{"x":65,"y":1.18},{"x":59,"y":1.38},{"x":63,"y":1.24},{"x":59,"y":1.31},{"x":61,"y":1.35},{"x":64,"y":1.29},{"x":58,"y":1.21},
{"x":57,"y":1.35},{"x":56,"y":1.31},{"x":55,"y":1.25},{"x":54,"y":1.21},{"x":53,"y":1.17},{"x":57,"y":1.12},{"x":55,"y":1.05},{"x":54,"y":0.99},{"x":52,"y":0.94},{"x":56,"y":1.18},{"x":58,"y":1.23},
{"x":51,"y":1.34},{"x":50,"y":1.29},{"x":49,"y":1.24},{"x":48,"y":1.2},{"x":47,"y":1.16},{"x":51,"y":1.11},{"x":49,"y":1.04},{"x":48,"y":0.98},{"x":46,"y":0.93},{"x":50,"y":1.15},
{"x":45,"y":1.33},{"x":44,"y":1.28},{"x":43,"y":1.23},{"x":42,"y":1.19},{"x":41,"y":1.15},{"x":45,"y":1.1},{"x":43,"y":1.02},{"x":42,"y":0.97},{"x":44,"y":1.14},
{"x":40.5,"y":1.3},{"x":39.2,"y":1.22},{"x":38.2,"y":1.19},{"x":37.2,"y":1.14},{"x":40.2,"y":1.09},{"x":38.8,"y":1.01},{"x":37.8,"y":0.96},{"x":36.9,"y":1.26},
{"x":36.3,"y":1.27},{"x":35.2,"y":1.2},{"x":34.4,"y":1.12},{"x":33.6,"y":1.05},{"x":32.9,"y":0.99},{"x":35.9,"y":1.25},
{"x":32.3,"y":1.24},{"x":31.1,"y":1.18},{"x":30.4,"y":1.11},{"x":29.6,"y":1.03},{"x":31.7,"y":0.94},{"x":29.3,"y":1.19},
{"x":28.8,"y":1.2},{"x":27.7,"y":1.14},{"x":26.9,"y":1.06},{"x":26.2,"y":0.98},{"x":27.3,"y":1.22},
{"x":25.6,"y":1.1},{"x":24.7,"y":1.04},{"x":23.9,"y":0.95},{"x":24.9,"y":1.2},
{"x":22.6,"y":1.15},{"x":21.7,"y":1},{"x":21,"y":1.07},
{"x":20.2,"y":1.06},{"x":18.9,"y":0.99},{"x":17.9,"y":1.05},{"x":16.9,"y":0.98},{"x":15.3,"y":1.02},{"x":14.8,"y":0.96},{"x":13.6,"y":1.01},{"x":14.4,"y":0.94},{"x":12.2,"y":1},{"x":11.7,"y":1.06},
{"x":198,"y":2.48},{"x":188,"y":2.95},{"x":201,"y":3.48},
{"x":170,"y":2.38},{"x":174,"y":2.98},{"x":180,"y":3.3},{"x":164,"y":3.78},
{"x":158,"y":2.45},{"x":146,"y":2.65},{"x":152,"y":3.02},{"x":161,"y":3.33},{"x":148,"y":3.85},{"x":154,"y":2.19},{"x":162,"y":2.8},{"x":149,"y":3.12},
{"x":144,"y":2.24},{"x":136,"y":2.44},{"x":141,"y":2.78},{"x":132,"y":3.08},{"x":138,"y":3.62},{"x":134,"y":2.88},{"x":140,"y":2.34},{"x":131,"y":2.92},{"x":145,"y":3.45},
{"x":126,"y":2.12},{"x":119,"y":2.39},{"x":123,"y":2.55},{"x":130,"y":2.85},{"x":117,"y":3.45},{"x":125,"y":3.92},{"x":121,"y":2.92},{"x":128,"y":2.28},{"x":120,"y":3.05},{"x":116,"y":2.48},
{"x":116,"y":2.05},{"x":106,"y":2.29},{"x":112,"y":2.5},{"x":104,"y":2.72},{"x":114,"y":2.95},{"x":108,"y":3.25},{"x":110,"y":4.12},{"x":111,"y":2.63},{"x":103,"y":3.1},{"x":115,"y":3.55},
{"x":103,"y":1.98},{"x":96,"y":2.19},{"x":99,"y":2.57},{"x":93,"y":2.76},{"x":101,"y":3.06},{"x":97,"y":3.35},{"x":95,"y":3.7},{"x":102,"y":2.31},{"x":94,"y":2.44},{"x":100,"y":2.82},{"x":92,"y":3.48},
{"x":92,"y":1.94},{"x":87,"y":2.12},{"x":83,"y":2.28},{"x":89,"y":2.52},{"x":85,"y":2.71},{"x":91,"y":2.9},{"x":82,"y":3.4},{"x":88,"y":3.8},{"x":89,"y":2.38},{"x":84,"y":2.86},{"x":91,"y":3.58},
{"x":82,"y":1.9},{"x":77,"y":2.07},{"x":74,"y":2.21},{"x":80,"y":2.39},{"x":76,"y":2.6},{"x":79,"y":2.76},{"x":73,"y":3},{"x":81,"y":3.22},{"x":75,"y":3.95},{"x":78,"y":2.46},{"x":73,"y":2.69},{"x":80,"y":3.45},
{"x":73,"y":1.86},{"x":69,"y":2.01},{"x":67,"y":2.18},{"x":71,"y":2.33},{"x":66,"y":2.5},{"x":70,"y":2.66},{"x":68,"y":2.98},{"x":72,"y":3.26},{"x":65.5,"y":3.7},{"x":69,"y":2.41},{"x":70,"y":2.26},{"x":66,"y":2.8},{"x":71,"y":3.52},
{"x":65,"y":1.82},{"x":61.5,"y":1.97},{"x":63,"y":2.12},{"x":60,"y":2.26},{"x":64,"y":2.39},{"x":58.8,"y":2.53},{"x":62,"y":2.63},{"x":60.5,"y":2.94},{"x":63.8,"y":3.15},{"x":59.2,"y":3.58},{"x":60,"y":2.44},{"x":63,"y":2.73},{"x":58.5,"y":3.3},
{"x":58,"y":1.8},{"x":55.5,"y":1.95},{"x":53,"y":2.07},{"x":57,"y":2.2},{"x":54.5,"y":2.32},{"x":56.2,"y":2.48},{"x":52.8,"y":2.61},{"x":55,"y":2.75},{"x":57.3,"y":3.1},{"x":53.8,"y":3.32},
{"x":52,"y":1.77},{"x":49.5,"y":1.9},{"x":47,"y":2.02},{"x":51,"y":2.16},{"x":48.5,"y":2.28},{"x":50.8,"y":2.42},{"x":46.5,"y":2.54},{"x":49,"y":2.78},{"x":51.5,"y":3.02},{"x":47.8,"y":3.25},
{"x":46,"y":1.75},{"x":44,"y":1.88},{"x":41.5,"y":2},{"x":45.2,"y":2.13},{"x":42.8,"y":2.25},{"x":44.6,"y":2.39},{"x":41,"y":2.6},{"x":43.2,"y":2.72},{"x":45.5,"y":2.96},{"x":42.2,"y":3.18},{"x":44.2,"y":3.58},
{"x":41,"y":1.73},{"x":39,"y":1.86},{"x":37.2,"y":1.98},{"x":40.2,"y":2.1},{"x":38.5,"y":2.21},{"x":39.7,"y":2.34},{"x":36.9,"y":2.45},{"x":38,"y":2.58},{"x":40.6,"y":2.69},{"x":37.6,"y":2.88},{"x":39.4,"y":3.08},{"x":38.3,"y":3.4},
{"x":35.4,"y":1.71},{"x":33.3,"y":1.83},{"x":34.7,"y":1.96},{"x":35.2,"y":2.08},{"x":33.9,"y":2.18},{"x":36.1,"y":2.29},{"x":32.6,"y":2.39},{"x":34.5,"y":2.49},{"x":35.6,"y":2.59},{"x":33.1,"y":2.7},{"x":34.3,"y":2.83},{"x":35.8,"y":2.97},{"x":32.9,"y":3.2},{"x":35.1,"y":3.41},{"x":33.7,"y":3.66},{"x":36,"y":3.02},
{"x":32.4,"y":1.69},{"x":30,"y":1.8},{"x":31.5,"y":1.92},{"x":29.6,"y":2.04},{"x":31.8,"y":2.14},{"x":30.6,"y":2.25},{"x":29.4,"y":2.35},{"x":31.3,"y":2.45},{"x":30.3,"y":2.55},{"x":29.8,"y":2.66},{"x":32.1,"y":2.78},{"x":30.7,"y":2.92},{"x":31.1,"y":3.14},{"x":29.2,"y":3.35},{"x":31.9,"y":3.49},{"x":30.4,"y":3.8},{"x":29.9,"y":2.81},
{"x":27.6,"y":1.67},{"x":26.8,"y":1.78},{"x":27.2,"y":1.9},{"x":28.8,"y":2.01},{"x":26.5,"y":2.12},{"x":27.7,"y":2.22},{"x":28.2,"y":2.32},{"x":26.4,"y":2.42},{"x":27.1,"y":2.52},{"x":28.6,"y":2.62},{"x":26.7,"y":2.74},{"x":27.4,"y":2.87},{"x":28,"y":3.09},{"x":26.2,"y":3.26},{"x":28.4,"y":3.57},{"x":26.9,"y":3.74},{"x":28.9,"y":1.86},
{"x":25.9,"y":1.66},{"x":24,"y":1.77},{"x":25.4,"y":1.88},{"x":23.3,"y":1.99},{"x":25,"y":2.09},{"x":24.5,"y":2.19},{"x":23.8,"y":2.29},{"x":25.7,"y":2.39},{"x":24.2,"y":2.49},{"x":23.5,"y":2.59},{"x":25.3,"y":2.71},{"x":24.8,"y":2.84},{"x":23.6,"y":3.04},{"x":25.8,"y":3.22},{"x":24.3,"y":3.39},{"x":23.9,"y":3.83},{"x":24.6,"y":3.43},
{"x":22,"y":1.65},{"x":21.1,"y":1.76},{"x":21.5,"y":1.87},{"x":22.8,"y":1.98},{"x":20.8,"y":2.08},{"x":21.9,"y":2.18},{"x":22.5,"y":2.28},{"x":20.9,"y":2.38},{"x":21.4,"y":2.48},{"x":22.7,"y":2.58},{"x":21,"y":2.7},{"x":21.7,"y":2.82},{"x":22.2,"y":3},{"x":20.7,"y":3.18},{"x":22.4,"y":3.47},{"x":21.2,"y":3.7},{"x":22.9,"y":2.66},
{"x":20.4,"y":1.64},{"x":18.9,"y":1.75},{"x":20,"y":1.86},{"x":18.5,"y":1.97},{"x":19.8,"y":2.07},{"x":19.3,"y":2.17},{"x":18.7,"y":2.27},{"x":20.2,"y":2.37},{"x":19.1,"y":2.47},{"x":18.6,"y":2.57},{"x":20,"y":2.69},{"x":19.5,"y":2.81},{"x":18.4,"y":3.06},{"x":20.3,"y":3.28},{"x":19.2,"y":3.36},{"x":18.8,"y":3.62},{"x":19.6,"y":2.22},
{"x":17.5,"y":1.63},{"x":16.8,"y":1.74},{"x":17.1,"y":1.85},{"x":18.2,"y":1.96},{"x":16.7,"y":2.06},{"x":17.4,"y":2.16},{"x":17.9,"y":2.26},{"x":16.4,"y":2.36},{"x":17,"y":2.46},{"x":18.1,"y":2.56},{"x":16.6,"y":2.68},{"x":17.2,"y":2.8},{"x":17.6,"y":2.99},{"x":16.5,"y":3.15},{"x":17.8,"y":3.44},{"x":16.9,"y":3.78},{"x":18.3,"y":3.36},
{"x":16.3,"y":1.62},{"x":15,"y":1.73},{"x":15.9,"y":1.84},{"x":14.6,"y":1.95},{"x":15.7,"y":2.05},{"x":15.3,"y":2.15},{"x":14.8,"y":2.25},{"x":16.1,"y":2.35},{"x":15.2,"y":2.45},{"x":14.7,"y":2.55},{"x":15.9,"y":2.67},{"x":15.5,"y":2.79},{"x":14.9,"y":3.02},{"x":16.2,"y":3.31},{"x":15.1,"y":3.38},{"x":14.8,"y":3.68},{"x":15.6,"y":2.03},
{"x":13.9,"y":1.6},{"x":13.2,"y":1.71},{"x":13.5,"y":1.82},{"x":14.4,"y":1.93},{"x":13.3,"y":2.03},{"x":13.9,"y":2.13},{"x":14.2,"y":2.23},{"x":13.1,"y":2.33},{"x":13.6,"y":2.43},{"x":14.4,"y":2.53},{"x":13.2,"y":2.65},{"x":13.7,"y":2.77},{"x":14,"y":2.97},{"x":13.1,"y":3.12},{"x":14.2,"y":3.52},{"x":13.4,"y":3.6},{"x":14.5,"y":2.86},
{"x":13,"y":1.56},{"x":11.9,"y":1.68},{"x":12.7,"y":1.8},{"x":11.6,"y":1.91},{"x":12.5,"y":2.01},{"x":12.2,"y":2.11},{"x":11.7,"y":2.21},{"x":12.9,"y":2.31},{"x":12.1,"y":2.41},{"x":11.6,"y":2.51},{"x":12.7,"y":2.63},{"x":12.4,"y":2.75},{"x":11.8,"y":3.08},{"x":12.9,"y":3.21},{"x":12,"y":3.33},{"x":11.7,"y":3.76},{"x":12.4,"y":3.17},
{"x":11,"y":1.54},{"x":10.5,"y":1.66},{"x":10.7,"y":1.78},{"x":11.4,"y":1.9},{"x":10.5,"y":2},{"x":11,"y":2.1},{"x":11.3,"y":2.2},{"x":10.4,"y":2.3},{"x":10.7,"y":2.4},{"x":11.4,"y":2.5},{"x":10.5,"y":2.62},{"x":10.8,"y":2.74},{"x":11.1,"y":2.94},{"x":10.4,"y":3.27},{"x":11.2,"y":3.46},{"x":10.6,"y":3.64},{"x":11.5,"y":2.17},
{"x":10.3,"y":1.52},{"x":9.5,"y":1.64},{"x":10.1,"y":1.76},{"x":9.3,"y":1.88},{"x":9.95,"y":1.99},{"x":9.7,"y":2.09},{"x":9.4,"y":2.19},{"x":10.2,"y":2.29},{"x":9.6,"y":2.39},{"x":9.3,"y":2.49},{"x":10.1,"y":2.61},{"x":9.85,"y":2.73},{"x":9.45,"y":3.01},{"x":10.25,"y":3.13},{"x":9.6,"y":3.4},{"x":9.35,"y":3.81},{"x":9.9,"y":2.68},
{"x":8.9,"y":1.53},{"x":8.35,"y":1.65},{"x":8.6,"y":1.77},{"x":9.2,"y":1.89},{"x":8.45,"y":1.99},{"x":8.85,"y":2.09},{"x":9.05,"y":2.19},{"x":8.3,"y":2.29},{"x":8.6,"y":2.39},{"x":9.15,"y":2.49},{"x":8.4,"y":2.61},{"x":8.7,"y":2.73},{"x":8.9,"y":2.96},{"x":8.3,"y":3.24},{"x":9,"y":3.55},{"x":8.5,"y":3.71},{"x":9.2,"y":3.31},
{"x":8.2,"y":1.54},{"x":7.55,"y":1.66},{"x":8,"y":1.78},{"x":7.4,"y":1.9},{"x":7.9,"y":2},{"x":7.7,"y":2.1},{"x":7.45,"y":2.2},{"x":8.15,"y":2.3},{"x":7.6,"y":2.4},{"x":7.35,"y":2.5},{"x":8.05,"y":2.62},{"x":7.85,"y":2.74},{"x":7.5,"y":3.05},{"x":8.2,"y":3.17},{"x":7.65,"y":3.43},{"x":7.4,"y":3.66},{"x":7.9,"y":1.83},
{"x":7.05,"y":1.58},{"x":6.6,"y":1.7},{"x":6.85,"y":1.82},{"x":7.3,"y":1.93},{"x":6.7,"y":2.03},{"x":7,"y":2.13},{"x":7.2,"y":2.23},{"x":6.55,"y":2.33},{"x":6.8,"y":2.43},{"x":7.25,"y":2.53},{"x":6.65,"y":2.65},{"x":6.9,"y":2.77},{"x":7.05,"y":2.98},{"x":6.6,"y":3.29},{"x":7.15,"y":3.37},{"x":6.75,"y":3.79},{"x":7.3,"y":2.57},
{"x":6.5,"y":1.63},{"x":6,"y":1.75},{"x":6.35,"y":1.86},{"x":5.87,"y":1.97},{"x":6.25,"y":2.07},{"x":6.12,"y":2.17},{"x":5.93,"y":2.27},{"x":6.45,"y":2.37},{"x":6.08,"y":2.47},{"x":5.86,"y":2.57},{"x":6.38,"y":2.69},{"x":6.22,"y":2.81},{"x":5.97,"y":3.03},{"x":6.48,"y":3.19},{"x":6.1,"y":3.48},{"x":5.9,"y":3.63},{"x":6.28,"y":3.25},
{"x":5.58,"y":1.67},{"x":5.79,"y":1.79},{"x":5.51,"y":1.9},{"x":5.62,"y":2.01},{"x":5.71,"y":2.11},{"x":5.47,"y":2.21},{"x":5.57,"y":2.31},{"x":5.76,"y":2.41},{"x":5.5,"y":2.51},{"x":5.59,"y":2.61},{"x":5.66,"y":2.73},{"x":5.47,"y":2.85},{"x":5.73,"y":3.07},{"x":5.52,"y":3.26},{"x":5.8,"y":3.45}
],
"solid": [{"x":1000,"y":2.291,"k":"s"},{"x":5.45,"y":1.079,"k":"s"}],
"dotted": [{"x":1000,"y":2.382,"k":"u"},{"x":5.5,"y":1.122,"k":"u"},{"x":1000,"y":2.204,"k":"d"},{"x":5.5,"y":1.041,"k":"d"}],
"box": [{"x":3428,"x2":1352,"y":1.091,"y2":0.851}],
"note": [{"x":3209,"y":0.985,"t":"1.0 M☉,"},{"x":3209,"y":0.889,"t":"track mix"}]
},
"encoding": {
 "x": {"field": "x", "type": "quantitative",
  "scale": {"type": "log", "domain": [4, 4000], "reverse": true, "nice": false},
  "axis": {"title": "Incident Bolometric Flux [F⊕]",
   "values": [4000,3000,2000,1000,900,800,700,600,500,400,300,200,100,90,80,70,60,50,40,30,20,10,9,8,7,6,5,4],
   "labelExpr": "(datum.value == 1000 || datum.value == 100 || datum.value == 10) ? format(datum.value, '.1f') : ''",
   "tickSize": {"condition": {"test": "datum.value == 1000 || datum.value == 100 || datum.value == 10", "value": 15}, "value": 8.3},
   "tickWidth": {"condition": {"test": "datum.value == 1000 || datum.value == 100 || datum.value == 10", "value": 3.3}, "value": 2.5},
   "labelPadding": 12, "titlePadding": 22, "labelOverlap": false, "labelFlush": false, "labelLimit": 600}},
 "y": {"field": "y", "type": "quantitative",
  "scale": {"type": "log", "domain": [0.8, 7.5], "nice": false},
  "axis": {"title": "Planetary Radius [R☉]",
   "values": [0.8,0.9,1,1.3,1.7,2,3,4,5,6,7],
   "labelExpr": "(datum.value < 0.95 || datum.value == 5 || datum.value == 7) ? '' : format(datum.value, '.1f')",
   "tickSize": {"condition": {"test": "datum.value < 0.95 || datum.value == 5 || datum.value == 7", "value": 8.3}, "value": 15},
   "tickWidth": {"condition": {"test": "datum.value < 0.95 || datum.value == 5 || datum.value == 7", "value": 2.5}, "value": 3.3},
   "labelPadding": 16, "titlePadding": 28, "labelOverlap": false, "labelFlush": false, "labelLimit": 600}}
},
"layer": [
 {"data": {"name": "h"},
  "mark": {"type": "circle", "size": 560, "fillOpacity": 0.54, "strokeOpacity": 0.54, "stroke": "black", "strokeWidth": 1.5},
  "encoding": {"fill": {"datum": "high activity", "type": "nominal",
    "scale": {"domain": ["high activity", "medium activity", "low activity"], "range": ["#0000aa", "#000000", "#ff0000"]},
    "legend": {"title": null, "orient": "none", "legendX": 80, "legendY": 54, "padding": 0, "rowPadding": 28, "labelOffset": 75,
      "labelFontSize": 58, "labelFont": "DejaVu Sans", "labelColor": "black", "labelLimit": 1200, "symbolType": "circle", "symbolSize": 560,
      "symbolStrokeColor": "black", "symbolStrokeWidth": 1.5,
      "encode": {"symbols": {"update": {
        "fillOpacity": {"signal": "datum.value == 'low activity' ? 0.3 : (datum.value == 'high activity' ? 0.54 : 0.31)"},
        "strokeOpacity": {"signal": "datum.value == 'low activity' ? 0.3 : (datum.value == 'high activity' ? 0.54 : 0.31)"},
        "opacity": {"value": 1}}}}}}}},
 {"data": {"name": "m"},
  "mark": {"type": "circle", "size": 560, "fillOpacity": 0.31, "strokeOpacity": 0.31, "stroke": "black", "strokeWidth": 1.5},
  "encoding": {"fill": {"datum": "medium activity", "type": "nominal"}}},
 {"data": {"name": "l"},
  "mark": {"type": "circle", "size": 560, "fillOpacity": 0.3, "strokeOpacity": 0.3, "stroke": "black", "strokeWidth": 1.5},
  "encoding": {"fill": {"datum": "low activity", "type": "nominal"}}},
 {"data": {"name": "solid"},
  "mark": {"type": "line", "stroke": "#474747", "strokeWidth": 8.3, "strokeCap": "butt"},
  "encoding": {"detail": {"field": "k", "type": "nominal"}}},
 {"data": {"name": "dotted"},
  "mark": {"type": "line", "stroke": "#3a3a3a", "strokeWidth": 5.5, "strokeDash": [5.5, 10.5], "strokeCap": "butt"},
  "encoding": {"detail": {"field": "k", "type": "nominal"}}},
 {"data": {"name": "box"},
  "mark": {"type": "rect", "cornerRadius": 17, "fill": "white", "fillOpacity": 0.5, "stroke": "black", "strokeOpacity": 0.5, "strokeWidth": 3.3},
  "encoding": {"x2": {"field": "x2"}, "y2": {"field": "y2"}}},
 {"data": {"name": "note"},
  "mark": {"type": "text", "align": "left", "baseline": "alphabetic", "fontSize": 58, "font": "DejaVu Sans", "fill": "black"},
  "encoding": {"text": {"field": "t", "type": "nominal"}}}
]
}
